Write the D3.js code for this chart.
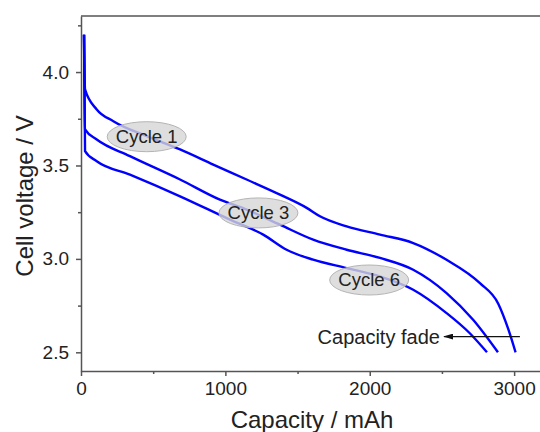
<!DOCTYPE html>
<html>
<head>
    <title>Discharge curves</title>
    <script src="https://d3js.org/d3.v7.min.js"></script>
    <style>
        body { margin: 0; background: #fff; }
        svg { display: block; font-family: "Liberation Sans", Arial, sans-serif; }
        .curve { fill: none; stroke: #0000ff; stroke-width: 2.4; }
        .axis path, .axis line { stroke: #555; stroke-width: 1.5; }
        .axis text { font-size: 19px; fill: #222; font-family: "Liberation Sans", Arial, sans-serif; }
        .bubble { fill: #d6d6d6; fill-opacity: 0.8; stroke: #b4b4b4; stroke-width: 1; }
        .label { font-size: 18.5px; fill: #222; }
    </style>
</head>
<body>
    <div id="chart"></div>

    <script>
        // discharge curves (capacity in mAh, voltage in V)
        const cycle1Capacity = [21, 28, 109, 224, 455, 686, 916, 1147, 1378, 1563, 1655, 1840, 2071, 2301, 2532, 2763, 2890, 2959, 3010];
        const cycle1Voltage  = [4.20, 3.907, 3.800, 3.737, 3.657, 3.586, 3.505, 3.425, 3.344, 3.273, 3.228, 3.174, 3.130, 3.085, 2.995, 2.870, 2.760, 2.625, 2.50];

        const cycle3Capacity = [21, 28, 109, 339, 686, 962, 1147, 1378, 1608, 1840, 2071, 2301, 2532, 2716, 2888];
        const cycle3Voltage  = [4.20, 3.693, 3.639, 3.550, 3.425, 3.317, 3.264, 3.183, 3.103, 3.049, 3.005, 2.942, 2.817, 2.674, 2.50];

        const cycle6Capacity = [21, 28, 109, 339, 686, 1032, 1262, 1424, 1608, 1840, 2071, 2301, 2532, 2693, 2812];
        const cycle6Voltage  = [4.20, 3.577, 3.523, 3.451, 3.335, 3.210, 3.130, 3.049, 2.996, 2.951, 2.906, 2.835, 2.710, 2.602, 2.50];

        const xTicks = [0, 1000, 2000, 3000];
        const xMinorTicks = [500, 1500, 2500];
        const yTicks = [2.5, 3.0, 3.5, 4.0];
        const yMinorTicks = [2.75, 3.25, 3.75, 4.25];

        const cycleLabels = ["Cycle 1", "Cycle 3", "Cycle 6"];
        const labelCapacity = [455, 1229, 1996];
        const labelVoltage = [3.654, 3.246, 2.887];

        const width = 540, height = 432;
        const margin = {top: 16, left: 81, bottom: 61};

        const xScale = d3.scaleLinear().domain([0, 3200]).range([margin.left, margin.left + 462]);
        const yScale = d3.scaleLinear().domain([2.4, 4.3]).range([height - margin.bottom, margin.top]);

        const svg = d3.select("#chart").append("svg")
            .attr("width", width)
            .attr("height", height);

        // frame top line
        svg.append("line")
            .attr("x1", xScale(0)).attr("x2", xScale(3200))
            .attr("y1", yScale(4.3)).attr("y2", yScale(4.3))
            .attr("stroke", "#555").attr("stroke-width", 1.5);

        // minor ticks
        svg.append("g")
            .attr("class", "axis")
            .attr("transform", "translate(0," + yScale(2.4) + ")")
            .call(d3.axisBottom(xScale).tickValues(xMinorTicks).tickSize(3).tickFormat(""))
            .select(".domain").remove();

        svg.append("g")
            .attr("class", "axis")
            .attr("transform", "translate(" + xScale(0) + ",0)")
            .call(d3.axisLeft(yScale).tickValues(yMinorTicks).tickSize(3).tickFormat(""))
            .select(".domain").remove();

        // major axes
        svg.append("g")
            .attr("class", "axis")
            .attr("transform", "translate(0," + yScale(2.4) + ")")
            .call(d3.axisBottom(xScale).tickValues(xTicks).tickSize(5).tickSizeOuter(0).tickPadding(6).tickFormat(d3.format("d")));

        svg.append("g")
            .attr("class", "axis")
            .attr("transform", "translate(" + xScale(0) + ",0)")
            .call(d3.axisLeft(yScale).tickValues(yTicks).tickSize(5).tickSizeOuter(0).tickPadding(7).tickFormat(d3.format(".1f")));

        // curves
        const line = d3.line()
            .x(d => xScale(d[0]))
            .y(d => yScale(d[1]))
            .curve(d3.curveMonotoneX);

        [[cycle1Capacity, cycle1Voltage], [cycle3Capacity, cycle3Voltage], [cycle6Capacity, cycle6Voltage]]
            .forEach(c => {
                svg.append("path")
                    .attr("class", "curve")
                    .attr("d", line(d3.zip(c[0], c[1])));
            });

        // cycle labels
        cycleLabels.forEach((t, i) => {
            svg.append("ellipse")
                .attr("class", "bubble")
                .attr("cx", xScale(labelCapacity[i]))
                .attr("cy", yScale(labelVoltage[i]))
                .attr("rx", 39.5)
                .attr("ry", 15);
            svg.append("text")
                .attr("class", "label")
                .attr("x", xScale(labelCapacity[i]))
                .attr("y", yScale(labelVoltage[i]))
                .attr("dy", "0.35em")
                .attr("text-anchor", "middle")
                .text(t);
        });

        // capacity fade arrow (drawn right to left)
        svg.append("defs").append("marker")
            .attr("id", "arrow")
            .attr("viewBox", "0 0 10 6")
            .attr("refX", 9).attr("refY", 3)
            .attr("markerWidth", 10).attr("markerHeight", 6)
            .attr("markerUnits", "userSpaceOnUse")
            .attr("orient", "auto")
            .append("path")
            .attr("d", "M0,0 L10,3 L0,6 Z")
            .attr("fill", "#111");

        svg.append("line")
            .attr("x1", xScale(3040)).attr("x2", xScale(2515))
            .attr("y1", yScale(2.584)).attr("y2", yScale(2.584))
            .attr("stroke", "#111").attr("stroke-width", 1.3)
            .attr("marker-end", "url(#arrow)");

        svg.append("text")
            .attr("class", "label")
            .attr("x", xScale(2486))
            .attr("y", yScale(2.584))
            .attr("dy", "0.35em")
            .attr("text-anchor", "end")
            .style("font-size", "20px")
            .text("Capacity fade");

        // axis titles
        svg.append("text")
            .attr("x", 312)
            .attr("y", 428)
            .attr("text-anchor", "middle")
            .style("font-size", "24px")
            .attr("fill", "#222")
            .text("Capacity / mAh");

        svg.append("text")
            .attr("transform", "translate(33,196) rotate(-90)")
            .attr("text-anchor", "middle")
            .style("font-size", "24px")
            .attr("fill", "#222")
            .text("Cell voltage / V");
    </script>
</body>
</html>
